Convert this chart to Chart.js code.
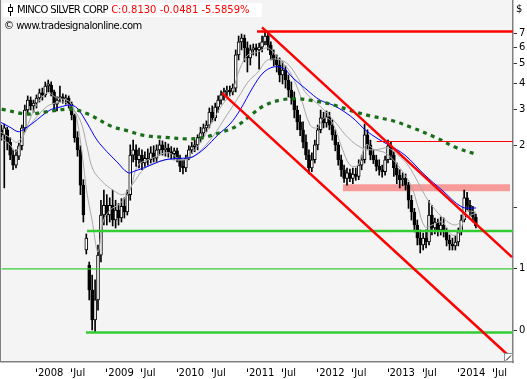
<!DOCTYPE html>
<html><head><meta charset="utf-8">
<script src="https://cdn.jsdelivr.net/npm/chart.js@4/dist/chart.umd.min.js"></script>
<style>
html,body{margin:0;padding:0;background:#fff;}
#wrap{position:relative;width:527px;height:379px;overflow:hidden;}
#c{position:absolute;left:0;top:0;}
.t{position:absolute;font-family:'DejaVu Sans',sans-serif;font-size:10px;line-height:14px;white-space:nowrap;}
</style></head><body>
<div id="wrap">
<canvas id="c" width="527" height="379"></canvas>
<div class="t" style="left:3px;top:3px;width:259px;height:14px;background:#fff;">
  <span style="position:absolute;left:7px;top:1px;width:1px;height:12px;background:#000"></span>
  <span style="position:absolute;left:5px;top:4px;width:3px;height:3px;border:1px solid #000;background:#fff"></span>
  <span style="position:absolute;left:14px;top:0;"><span style="color:#000;letter-spacing:-0.65px">MINCO SILVER CORP</span> <span style="color:#f00">C:0.8130 -0.0481 -5.5859%</span></span>
</div>
<div class="t" style="left:4px;top:19px;color:#000;letter-spacing:-0.5px">© www.tradesignalonline.com</div>
<div class="t" style="left:516px;top:2px;color:#000">$</div>
</div>
<script>
// ---- candle data (semi-monthly bars, prices in $) ----
const candleStart = 2007.5;
const candleStep = 1 / 24;
const opens = [2.38,2.25,2.38,2.07,1.79,1.60,1.77,1.99,2.43,2.97,
3.32,3.11,3.21,3.40,3.60,3.52,3.89,3.93,3.64,3.17,
3.40,3.44,3.37,3.40,3.17,2.81,2.18,1.90,1.28,0.618,
0.522,0.395,0.282,0.353,0.584,0.915,1.02,0.915,1.02,0.865,
0.968,0.885,1.01,0.947,1.15,1.79,1.90,1.70,1.79,1.64,
1.73,1.70,1.84,1.73,1.90,2.01,1.90,1.94,1.86,1.82,
1.88,1.73,1.58,1.55,1.73,1.90,1.97,2.01,2.18,2.30,
2.43,2.51,2.90,2.72,3.07,3.32,3.52,3.64,3.72,3.64,
3.80,5.51,6.38,6.66,5.96,5.33,5.83,5.96,5.83,6.02,
6.38,6.81,6.16,5.51,5.21,4.92,4.40,4.65,4.16,3.72,
3.40,2.97,2.60,2.38,2.07,1.79,1.55,1.70,2.01,2.38,
2.72,2.57,2.75,2.51,2.25,2.01,1.70,1.52,1.38,1.47,
1.38,1.45,1.41,1.60,1.70,2.25,2.01,1.79,1.70,1.58,
1.52,1.49,1.70,1.99,1.79,1.55,1.43,1.36,1.38,1.28,
1.08,0.947,0.818,0.707,0.654,0.707,0.676,0.915,0.791,0.846,
0.774,0.818,0.757,0.691,0.661,0.647,0.676,0.757,0.865,1.11,
1.02,0.947,0.895];
const highs = [2.51,2.54,2.45,2.18,1.90,1.90,2.05,2.51,3.14,3.48,
3.44,3.32,3.52,3.76,3.80,4.07,4.16,4.07,3.72,3.44,
3.89,3.56,3.52,3.48,3.25,2.84,2.33,1.99,1.36,0.740,
0.540,0.467,0.442,0.654,1.08,1.21,1.15,1.11,1.21,1.08,
1.04,1.10,1.11,1.21,2.01,2.12,2.01,1.94,1.90,1.86,
1.92,1.97,1.99,2.01,2.12,2.10,2.07,2.03,1.97,1.94,
1.94,1.79,1.70,1.79,1.99,2.07,2.12,2.25,2.45,2.54,
2.63,3.04,3.11,3.21,3.48,3.68,3.80,3.89,3.89,3.98,
5.83,6.81,6.97,6.89,6.38,6.16,6.23,6.23,6.30,6.81,
7.21,7.05,6.38,5.83,5.51,5.33,5.10,4.87,4.40,4.07,
3.64,3.11,2.81,2.60,2.25,1.90,1.84,2.12,2.51,2.97,
2.90,2.94,2.90,2.66,2.38,2.07,1.79,1.60,1.55,1.53,
1.55,1.55,1.70,1.79,2.54,2.38,2.12,1.90,1.79,1.70,
1.60,1.77,2.12,2.07,1.86,1.64,1.52,1.47,1.45,1.32,
1.14,0.986,0.865,0.774,0.748,0.774,1.08,1.02,0.885,0.875,
0.895,0.885,0.791,0.731,0.707,0.723,0.791,0.915,1.21,1.18,
1.08,1.01,0.925];
const lows = [2.12,1.24,1.90,1.70,1.52,1.55,1.70,1.90,2.33,2.87,
2.97,2.90,3.04,3.25,3.32,3.44,3.64,3.48,2.97,2.94,
3.25,3.21,3.17,3.04,2.66,2.07,1.77,1.15,0.846,0.591,
0.353,0.252,0.246,0.315,0.540,0.818,0.818,0.846,0.809,0.791,
0.818,0.846,0.885,0.915,1.08,1.66,1.58,1.55,1.52,1.58,
1.60,1.64,1.66,1.66,1.79,1.79,1.77,1.75,1.71,1.70,
1.66,1.49,1.45,1.49,1.70,1.82,1.86,1.90,2.07,2.20,
2.33,2.43,2.60,2.63,2.90,3.17,3.32,3.48,3.48,3.52,
3.64,5.21,5.83,5.10,4.55,4.92,5.51,5.45,4.70,5.70,
6.16,5.83,5.21,4.87,4.55,4.07,3.98,3.80,3.44,3.17,
2.72,2.38,2.23,1.94,1.70,1.45,1.49,1.64,1.90,2.30,
2.43,2.45,2.38,2.12,1.88,1.60,1.41,1.32,1.28,1.33,
1.30,1.35,1.36,1.52,1.64,1.90,1.70,1.63,1.50,1.43,
1.40,1.43,1.64,1.70,1.41,1.30,1.24,1.27,1.21,0.986,
0.865,0.757,0.654,0.598,0.618,0.632,0.654,0.731,0.740,0.723,
0.731,0.715,0.647,0.618,0.618,0.618,0.647,0.731,0.846,0.968,
0.905,0.846,0.791];
const closes = [2.25,2.43,2.07,1.79,1.60,1.79,1.99,2.43,2.97,3.32,
3.11,3.21,3.40,3.60,3.52,3.89,3.98,3.64,3.17,3.32,
3.44,3.37,3.40,3.17,2.81,2.18,1.90,1.28,0.915,0.707,
0.395,0.282,0.353,0.584,0.915,1.02,0.915,1.02,0.865,0.968,
0.885,1.01,0.947,1.15,1.79,1.90,1.70,1.79,1.64,1.73,
1.70,1.84,1.73,1.90,2.01,1.90,1.94,1.86,1.82,1.88,
1.73,1.58,1.55,1.73,1.90,1.97,2.01,2.18,2.30,2.43,
2.51,2.90,2.72,3.07,3.32,3.52,3.64,3.72,3.64,3.80,
5.51,6.38,6.66,5.96,5.33,5.83,5.96,5.83,6.02,6.38,
6.81,6.16,5.51,5.21,4.92,4.40,4.65,4.16,3.72,3.40,
2.97,2.60,2.38,2.07,1.79,1.55,1.70,2.01,2.38,2.72,
2.57,2.75,2.51,2.25,2.01,1.70,1.52,1.38,1.47,1.38,
1.45,1.41,1.60,1.70,2.25,2.01,1.79,1.70,1.58,1.52,
1.49,1.70,1.99,1.79,1.55,1.43,1.36,1.38,1.28,1.08,
0.947,0.818,0.707,0.654,0.707,0.676,0.915,0.791,0.846,0.774,
0.818,0.757,0.691,0.661,0.647,0.676,0.757,0.865,1.11,1.02,
0.947,0.895,0.813];

// ---- moving averages (dates in decimal years) ----
const grayFastDates = [2007.481,2007.623,2007.708,2007.822,2007.979,2008.149,2008.292,2008.434,2008.505,2008.576,2008.647,2008.718,2008.790,2008.875,2008.946,2009.046,2009.188,2009.330,2009.444,2009.643,2009.871,2010.070,2010.212,2010.354,2010.497,2010.639,2010.781,2010.895,2011.009,2011.151,2011.293,2011.435,2011.606,2011.748,2011.891,2011.990,2012.090,2012.203,2012.346,2012.460,2012.573,2012.687,2012.815,2012.957,2013.100,2013.242,2013.341,2013.427,2013.526,2013.626,2013.768,2013.910,2014.024,2014.109,2014.252];
const grayFastValues = [2.20,2.01,1.86,2.25,3.04,3.60,3.40,3.32,3.14,2.66,1.84,1.17,0.865,0.604,0.846,0.968,1.04,1.21,1.60,1.73,1.84,1.70,1.84,2.12,2.60,3.14,3.64,4.75,5.51,5.70,5.96,5.33,4.55,3.52,2.51,2.43,2.72,2.60,1.94,1.60,1.60,2.01,1.90,1.84,1.66,1.43,1.25,1.00,0.800,0.818,0.846,0.731,0.757,0.947,0.947];
const graySlowDates = [2007.481,2007.623,2007.723,2007.908,2008.121,2008.263,2008.434,2008.619,2008.718,2008.804,2008.946,2009.088,2009.231,2009.359,2009.543,2009.828,2010.113,2010.297,2010.497,2010.682,2010.866,2011.009,2011.151,2011.293,2011.535,2011.720,2011.819,2012.061,2012.246,2012.431,2012.630,2012.815,2013.000,2013.143,2013.285,2013.427,2013.569,2013.768,2013.953,2014.095,2014.252];
const graySlowValues = [2.33,2.18,2.07,2.51,3.04,3.21,3.21,2.66,1.97,1.52,1.32,1.21,1.15,1.28,1.55,1.70,1.70,1.84,2.18,2.72,3.40,4.07,4.55,5.21,5.10,4.25,3.64,3.04,2.60,2.18,1.94,1.90,1.94,1.79,1.60,1.32,1.08,0.895,0.818,0.885,0.937];
const blueDates = [2007.481,2007.623,2007.737,2007.808,2007.950,2008.192,2008.334,2008.477,2008.576,2008.718,2008.861,2009.003,2009.145,2009.302,2009.401,2009.543,2009.828,2010.070,2010.212,2010.397,2010.582,2010.753,2010.895,2011.080,2011.222,2011.364,2011.506,2011.649,2011.848,2012.033,2012.218,2012.388,2012.531,2012.673,2012.858,2013.029,2013.242,2013.526,2013.768,2014.053,2014.252];
const blueValues = [2.60,2.45,2.33,2.38,2.57,2.97,3.07,3.14,3.04,2.57,2.12,1.86,1.66,1.47,1.50,1.56,1.70,1.73,1.75,1.94,2.25,2.54,2.97,3.84,4.50,4.81,4.76,4.25,3.72,3.32,3.14,2.90,2.66,2.38,2.15,1.99,1.79,1.43,1.21,1.00,0.99];
const greenDates = [2007.505,2007.865,2008.107,2008.491,2008.733,2009.060,2009.302,2009.543,2009.885,2010.127,2010.369,2010.653,2010.845,2011.037,2011.229,2011.464,2011.705,2011.947,2012.189,2012.474,2012.767,2013.057,2013.341,2013.683,2013.967,2014.252];
const greenValues = [3.00,2.84,2.90,3.00,2.84,2.48,2.35,2.23,2.18,2.15,2.18,2.33,2.48,2.78,3.11,3.32,3.37,3.29,3.17,2.95,2.77,2.64,2.44,2.18,1.95,1.81];

// ---- drawn trend lines / levels ----
const upperChannelDates = [2011.208, 2014.764];
const upperChannelValues = [7.50, 0.571];
const lowerChannelDates = [2010.643, 2014.690];
const lowerChannelValues = [3.59, 0.1925];
const redLevelStarts = [2011.137, 2012.839];
const redLevelValues = [7.17, 2.087];
const bandStart = 2012.360, bandEnd = 2014.736;
const bandHigh = 1.293, bandLow = 1.194;
const greenLevelStarts = [2008.718, 2007.505, 2008.704];
const greenLevelValues = [0.765, 0.5, 0.245];

// ---- axes ----
const xMin = 2007.495, xMax = 2014.778;
const yMin = 0.176, yMax = 10.204;
const xTickValues = [2008,2008.5,2009,2009.5,2010,2010.5,2011,2011.5,2012,2012.5,2013,2013.5,2014,2014.5];
const xTickLabels = ['2008','Jul','2009','Jul','2010','Jul','2011','Jul','2012','Jul','2013','Jul','2014','Jul'];
const yTickValues = [7,6,5,4,3,2,1,0.5,0.25];
const yTickLabels = ['7','6','5','4','3','2','','1','0'];

const dates = closes.map((_, i) => candleStart + i * candleStep);
const pts = (xs, ys) => xs.map((x, i) => ({x, y: ys[i]}));
const lineDs = (data, color, width, order, extra) => Object.assign({
  type: 'line', data, borderColor: color, borderWidth: width, pointRadius: 0,
  fill: false, tension: 0, order
}, extra || {});

Chart.defaults.font.family = "'DejaVu Sans', sans-serif";
Chart.defaults.font.size = 10;
Chart.defaults.color = '#000';

const datasets = [
  lineDs(pts([bandStart, bandEnd], [bandHigh, bandHigh]), 'rgba(0,0,0,0)', 0, 30, {fill: '+1', backgroundColor: '#f79a9a'}),
  lineDs(pts([bandStart, bandEnd], [bandLow, bandLow]), 'rgba(0,0,0,0)', 0, 31),
  {type: 'bar', data: dates.map((d, i) => ({x: d, y: [lows[i], highs[i]]})), backgroundColor: '#000',
   borderWidth: 0, barThickness: 1, grouped: false, order: 20},
  {type: 'bar', data: dates.map((d, i) => ({x: d, y: [opens[i], closes[i]]})),
   backgroundColor: closes.map((c, i) => c >= opens[i] ? '#ffffff' : '#000000'),
   borderColor: '#000', borderWidth: 1, borderSkipped: false, minBarLength: 1, barThickness: 3, grouped: false, order: 19},
  lineDs(pts(graySlowDates, graySlowValues), '#a9a9a9', 1, 18, {tension: 0.35}),
  lineDs(pts(grayFastDates, grayFastValues), '#a9a9a9', 1, 17, {tension: 0.35}),
  lineDs(pts(blueDates, blueValues), '#0000ff', 1, 16, {tension: 0.35}),
  lineDs(pts(greenDates, greenValues), '#1a6e1a', 3.2, 15, {tension: 0.35, borderDash: [4, 4.5], borderCapStyle: 'butt'}),
];
greenLevelStarts.forEach((s, i) => datasets.push(
  lineDs(pts([s, xMax], [greenLevelValues[i], greenLevelValues[i]]), '#33cc33', i === 1 ? 1.2 : 2.5, 10)));
datasets.push(lineDs(pts([redLevelStarts[0], xMax], [redLevelValues[0], redLevelValues[0]]), '#ff0000', 2.5, 5));
datasets.push(lineDs(pts([redLevelStarts[1], xMax], [redLevelValues[1], redLevelValues[1]]), '#ff0000', 1.2, 5));
datasets.push(lineDs(pts(upperChannelDates, upperChannelValues), '#ff0000', 2.5, 4));
datasets.push(lineDs(pts(lowerChannelDates, lowerChannelValues), '#ff0000', 2.5, 4));

const framePlugin = {
  id: 'frame',
  beforeDraw(chart) {
    const {ctx, chartArea: a} = chart;
    ctx.save();
    ctx.fillStyle = '#ffffff';
    ctx.fillRect(0, 0, chart.width, chart.height);
    ctx.fillStyle = '#f4f4f4';
    ctx.fillRect(a.left, a.top, a.right - a.left, a.bottom - a.top);
    ctx.restore();
  },
  afterDraw(chart) {
    const {ctx, chartArea: a} = chart;
    ctx.save();
    ctx.strokeStyle = '#808080';
    ctx.lineWidth = 1;
    ctx.beginPath(); ctx.moveTo(a.left - 0.5, a.top); ctx.lineTo(a.left - 0.5, a.bottom); ctx.stroke();
    ctx.fillStyle = '#ffffff';
    ctx.fillRect(a.right - 8, a.bottom - 8, 7, 7);
    ctx.strokeStyle = '#909090';
    ctx.strokeRect(a.right - 8.5, a.bottom - 8.5, 8, 8);
    ctx.strokeStyle = '#000';
    ctx.beginPath(); ctx.moveTo(a.right - 7, a.bottom - 1.5); ctx.lineTo(a.right - 2, a.bottom - 6.5); ctx.stroke();
    ctx.restore();
  }
};

new Chart(document.getElementById('c'), {
  type: 'bar',
  data: {datasets},
  plugins: [framePlugin],
  options: {
    responsive: false, animation: false, devicePixelRatio: 1,
    layout: {padding: {left: 1, top: 0, right: 0, bottom: 0}},
    plugins: {legend: {display: false}, tooltip: {enabled: false}},
    scales: {
      x: {
        type: 'linear', min: xMin, max: xMax, offset: false,
        afterBuildTicks: s => { s.ticks = xTickValues.map(v => ({value: v})); },
        afterFit: s => { s.height = 17; s.paddingLeft = 0; s.paddingRight = 0; },
        ticks: {callback: (v, i) => xTickLabels[i], autoSkip: false, maxRotation: 0, minRotation: 0,
                align: 'start', labelOffset: 1.5, padding: -4.5, color: '#000'},
        grid: {drawOnChartArea: false, offset: false, tickLength: 10, tickBorderDash: [0, 6, 4, 40], tickColor: '#000'},
        border: {color: '#808080', width: 1.5}
      },
      y: {
        type: 'logarithmic', position: 'right', min: yMin, max: yMax, beginAtZero: false,
        afterBuildTicks: s => { s.ticks = yTickValues.map(v => ({value: v})); },
        afterFit: s => { s.width = 14; s.paddingTop = 0; s.paddingBottom = 0; },
        ticks: {callback: (v, i) => yTickLabels[i], autoSkip: false, padding: 2, color: '#000'},
        grid: {drawOnChartArea: false, tickLength: 4, tickColor: '#333'},
        border: {color: '#808080', width: 1.5}
      }
    }
  }
});
</script>
</body></html>
